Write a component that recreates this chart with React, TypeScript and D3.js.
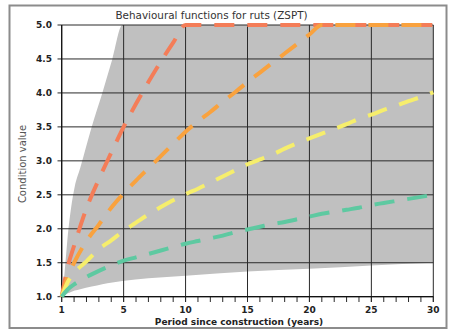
import React from "react";
import * as d3 from "d3";

const W = 449;
const H = 332;

const title = "Behavioural functions for ruts (ZSPT)";
const xTitle = "Period since construction (years)";
const yTitle = "Condition value";

const xTickValues = [0, 5, 10, 15, 20, 25, 30];
const xTickLabels = ["1", "5", "10", "15", "20", "25", "30"];
const yTickValues = [1, 1.5, 2, 2.5, 3, 3.5, 4, 4.5, 5];
const minorTicks = d3.range(0, 31);

// envelope (grey band)
const envX = [0, 0.15, 0.3, 0.5, 0.75, 1.05, 1.5, 2.42, 3.28, 4.09, 4.9, 7, 10, 15, 20, 25, 30];
const envUpper = [1, 1.2, 1.5, 1.92, 2.3, 2.62, 2.9, 3.5, 4.0, 4.5, 5, 5, 5, 5, 5, 5, 5];
const envLower = [1, 1.02, 1.03, 1.05, 1.07, 1.09, 1.11, 1.15, 1.185, 1.21, 1.23, 1.27, 1.31, 1.37, 1.41, 1.46, 1.5];

// series
const redX = [0, 0.5, 1, 2, 3, 4, 5, 6, 7, 8, 9, 10, 15, 20, 25, 30];
const redY = [1, 1.45, 1.75, 2.3, 2.73, 3.12, 3.5, 3.84, 4.16, 4.46, 4.74, 5, 5, 5, 5, 5];

const orangeX = [0, 0.5, 1, 2, 3, 4, 5, 6, 7, 8, 9, 10, 11, 12, 13, 14, 15, 16, 17, 18, 19, 20, 21, 25, 30];
const orangeY = [1, 1.3, 1.5, 1.82, 2.06, 2.31, 2.52, 2.71, 2.89, 3.07, 3.25, 3.43, 3.58, 3.72, 3.87, 4.01, 4.16, 4.3, 4.44, 4.58, 4.72, 4.86, 5, 5, 5];

const yellowX = [0, 0.5, 1, 2, 3, 4, 5, 6, 7, 8, 9, 10, 11, 12, 13, 14, 15, 16, 17, 18, 19, 20, 21, 22, 23, 24, 25, 26, 27, 28, 29, 30];
const yellowY = [1, 1.22, 1.35, 1.52, 1.7, 1.83, 1.97, 2.09, 2.21, 2.32, 2.42, 2.51, 2.59, 2.68, 2.77, 2.86, 2.95, 3.02, 3.09, 3.18, 3.26, 3.33, 3.4, 3.47, 3.54, 3.62, 3.68, 3.75, 3.81, 3.88, 3.94, 4.01];

const greenX = [0, 0.5, 1, 2, 3, 4, 5, 6, 7, 8, 9, 10, 11, 12, 13, 14, 15, 16, 17, 18, 19, 20, 21, 22, 23, 24, 25, 26, 27, 28, 29, 30];
const greenY = [1, 1.11, 1.18, 1.29, 1.38, 1.46, 1.53, 1.58, 1.63, 1.68, 1.73, 1.78, 1.82, 1.86, 1.9, 1.95, 1.99, 2.03, 2.07, 2.1, 2.14, 2.18, 2.22, 2.25, 2.28, 2.31, 2.35, 2.38, 2.41, 2.44, 2.47, 2.5];

const seriesColors = ["#F47D58", "#F9A23E", "#F6EE6C", "#5EC9A1"];

export default function App() {
  const x = d3.scaleLinear().domain([0, 30]).range([61.7, 433.3]);
  const y = d3.scaleLinear().domain([1, 5]).range([296.7, 25]);

  const envData = envX.map((v, i) => ({ x: v, lo: envLower[i], hi: envUpper[i] }));
  const area = d3
    .area<{ x: number; lo: number; hi: number }>()
    .x((d) => x(d.x))
    .y0((d) => y(d.lo))
    .y1((d) => y(d.hi))
    .curve(d3.curveMonotoneX);

  const line = d3
    .line<[number, number]>()
    .x((d) => x(d[0]))
    .y((d) => y(d[1]))
    .curve(d3.curveMonotoneX);

  const series = [
    { xs: redX, ys: redY },
    { xs: orangeX, ys: orangeY },
    { xs: yellowX, ys: yellowY },
    { xs: greenX, ys: greenY },
  ];

  const font = "'DejaVu Sans', Verdana, sans-serif";

  return (
    <svg
      width={W}
      height={H}
      style={{ position: "absolute", left: 0, top: 0, background: "#fff" }}
      fontFamily={font}
    >
      <rect x={9.5} y={5.5} width={437} height={322.5} fill="#fff" stroke="#8c8c8c" strokeWidth={2} />
      <text x={211.5} y={19} textAnchor="middle" fontSize={10.4} fill="#333">
        {title}
      </text>

      <path d={area(envData) || ""} fill="#C0C0C0" />

      {/* horizontal grid + y ticks */}
      {yTickValues.map((v) => (
        <g key={"y" + v}>
          <line x1={57.5} x2={x(30)} y1={y(v)} y2={y(v)} stroke="#2a2a2a" strokeWidth={1} />
          <text x={52} y={y(v) + 3.2} textAnchor="end" fontSize={9} fontWeight="bold" fill="#222">
            {v.toFixed(1)}
          </text>
        </g>
      ))}

      {/* vertical grid */}
      {xTickValues.map((v) => (
        <line key={"vx" + v} x1={x(v)} x2={x(v)} y1={y(5)} y2={302} stroke="#2a2a2a" strokeWidth={1} />
      ))}
      {/* minor ticks */}
      {minorTicks.map((v) => (
        <line key={"m" + v} x1={x(v)} x2={x(v)} y1={y(1)} y2={302} stroke="#2a2a2a" strokeWidth={1} />
      ))}
      {xTickValues.map((v, i) => (
        <text key={"xl" + v} x={x(v)} y={313} textAnchor="middle" fontSize={9} fontWeight="bold" fill="#222">
          {xTickLabels[i]}
        </text>
      ))}

      {/* axes */}
      <line x1={x(0)} x2={x(0)} y1={y(5)} y2={y(1)} stroke="#111" strokeWidth={1.2} />
      <line x1={x(0)} x2={x(30)} y1={y(1)} y2={y(1)} stroke="#111" strokeWidth={1.2} />

      {series.map((s, i) => (
        <path
          key={"s" + i}
          d={line(s.xs.map((v, j) => [v, s.ys[j]] as [number, number])) || ""}
          fill="none"
          stroke={seriesColors[i]}
          strokeWidth={4}
          strokeDasharray="20,13"
        />
      ))}

      <text x={239} y={324.5} textAnchor="middle" fontSize={9} fontWeight="bold" fill="#222">
        {xTitle}
      </text>
      <text
        transform={`translate(26,164) rotate(-90)`}
        textAnchor="middle"
        fontSize={10}
        fill="#555"
      >
        {yTitle}
      </text>
    </svg>
  );
}
